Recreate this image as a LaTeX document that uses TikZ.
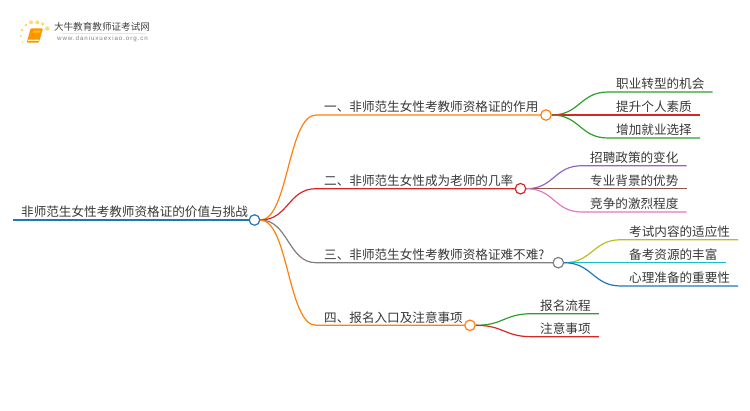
\documentclass[tikz,border=0pt]{standalone}
\usepackage{fontspec}
\setmainfont{Noto Sans CJK SC}
\newfontfamily\urlfont[LetterSpace=15]{Liberation Sans}
\usepackage{xcolor}
\usepackage{tikz}
\usetikzlibrary{positioning,backgrounds}

\definecolor{cLan}{HTML}{1F77B4}
\definecolor{cCheng}{HTML}{FF7F0E}
\definecolor{cHong}{HTML}{D62728}
\definecolor{cHui}{HTML}{7F7F7F}
\definecolor{cLv}{HTML}{2CA02C}
\definecolor{cZi}{HTML}{9467BD}
\definecolor{cZong}{HTML}{8C564B}
\definecolor{cFen}{HTML}{E377C2}
\definecolor{cGan}{HTML}{BCBD22}
\definecolor{cQing}{HTML}{17BECF}

\begin{document}
\begin{tikzpicture}[
    x=1pt, y=-1pt,
    font=\fontsize{12.6pt}{15pt}\selectfont,
    wenzi/.style={inner xsep=8pt, inner ysep=3pt, text height=10.4pt, text depth=0pt, text=black!78, anchor=south west},
    quan/.style={circle, draw, fill=white, minimum size=10.5pt, inner sep=0pt, line width=1.2pt},
    lian/.style={line width=1.2pt},
]
    \useasboundingbox (0,0) rectangle (750,410);
    % zhongxin
    \node[wenzi] (root) at (13,220) {非师范生女性考教师资格证的价值与挑战};
    \node[quan, draw=cLan] (c0) at (254.5,220) {};
    % yi ji
    \node[wenzi, above right=105pt and 61.5pt of c0.center, anchor=south west] (b1) {一、非师范生女性考教师资格证的作用};
    \node[wenzi, above right=31.3pt and 61.5pt of c0.center, anchor=south west] (b2) {二、非师范生女性成为老师的几率};
    \node[wenzi, below right=42.7pt and 61.5pt of c0.center, anchor=south west] (b3) {三、非师范生女性考教师资格证难不难?};
    \node[wenzi, below right=105.3pt and 61.5pt of c0.center, anchor=south west] (b4) {四、报名入口及注意事项};
    \node[quan, draw=cCheng] (c1) at (546,115) {};
    \node[quan, draw=cHong] (c2) at (520.5,188.7) {};
    \node[quan, draw=cHui] (c3) at (558.3,262.7) {};
    \node[quan, draw=cCheng] (c4) at (470,325.3) {};
    % er ji
    \node[wenzi, above right=23pt and 62pt of c1.center, anchor=south west] (l1) {职业转型的机会};
    \node[wenzi, above right=0pt and 62pt of c1.center, anchor=south west] (l2) {提升个人素质};
    \node[wenzi, below right=23pt and 62pt of c1.center, anchor=south west] (l3) {增加就业选择};
    \node[wenzi, above right=23pt and 61.5pt of c2.center, anchor=south west] (l4) {招聘政策的变化};
    \node[wenzi, above right=0pt and 61.5pt of c2.center, anchor=south west] (l5) {专业背景的优势};
    \node[wenzi, below right=23.3pt and 61.5pt of c2.center, anchor=south west] (l6) {竞争的激烈程度};
    \node[wenzi, above right=23pt and 62.7pt of c3.center, anchor=south west] (l7) {考试内容的适应性};
    \node[wenzi, above right=0pt and 62.7pt of c3.center, anchor=south west] (l8) {备考资源的丰富};
    \node[wenzi, below right=23.3pt and 62.7pt of c3.center, anchor=south west] (l9) {心理准备的重要性};
    \node[wenzi, above right=11.6pt and 62pt of c4.center, anchor=south west] (l10) {报名流程};
    \node[wenzi, below right=11.4pt and 62pt of c4.center, anchor=south west] (l11) {注意事项};
    % logo
    \node[text=black!75, font=\fontsize{9.6pt}{11pt}\selectfont, inner sep=0pt] (biaoti) at (102,27) {大牛教育教师证考试网};
    \node[text=black!50, font=\fontsize{6.2pt}{8pt}\urlfont, inner sep=0pt] (wangzhi) at (102.5,39) {www.daniuxuexiao.org.cn};
    \draw[black!10, line width=.8pt] (62,33.5) -- (146,33.5);
    \foreach \x/\y/\r in {22/30/1.5,26/25/1.7,31/22.3/2,37.3/22.3/2,42.7/24/1.8,47.3/28.5/2.2,20.7/36/1.2,22.7/42/.9}
        \fill[yellow!55!orange!55] (\x,\y) circle (\r);
    \fill[orange!85!yellow, rounded corners=1pt] (30.7,28.3) -- (43,28.3) -- (39,42.5) -- (26.7,42.5) -- cycle;
    \fill[yellow!35!white] (28,39.5) -- (39.5,39.5) -- (39.2,40.8) -- (27.6,40.8) -- cycle;
    \fill[yellow!60!orange] (33.5,30.5) -- (40.5,30.5) -- (40,32.5) -- (33,32.5) -- cycle;
    \begin{scope}[on background layer]
        \draw[lian, cLan] (root.south west) -- (c0.center);
        \foreach \a/\b/\c in {b1/c1/cCheng,b2/c2/cHong,b3/c3/cHui,b4/c4/cCheng}
            \draw[lian, \c] (c0.east) .. controls +(28,0) and +(-28,0) .. (\a.south west) -- (\b.center);
        \foreach \a/\b/\c in {l1/c1/cLv,l2/c1/cHong,l3/c1/cLv,l4/c2/cZi,l5/c2/cZong,l6/c2/cFen,l7/c3/cGan,l8/c3/cQing,l9/c3/cLan,l10/c4/cLv,l11/c4/cHong}
            \draw[lian, \c] (\b.east) .. controls +(28,0) and +(-28,0) .. (\a.south west) -- (\a.south east);
    \end{scope}
\end{tikzpicture}
\end{document}
